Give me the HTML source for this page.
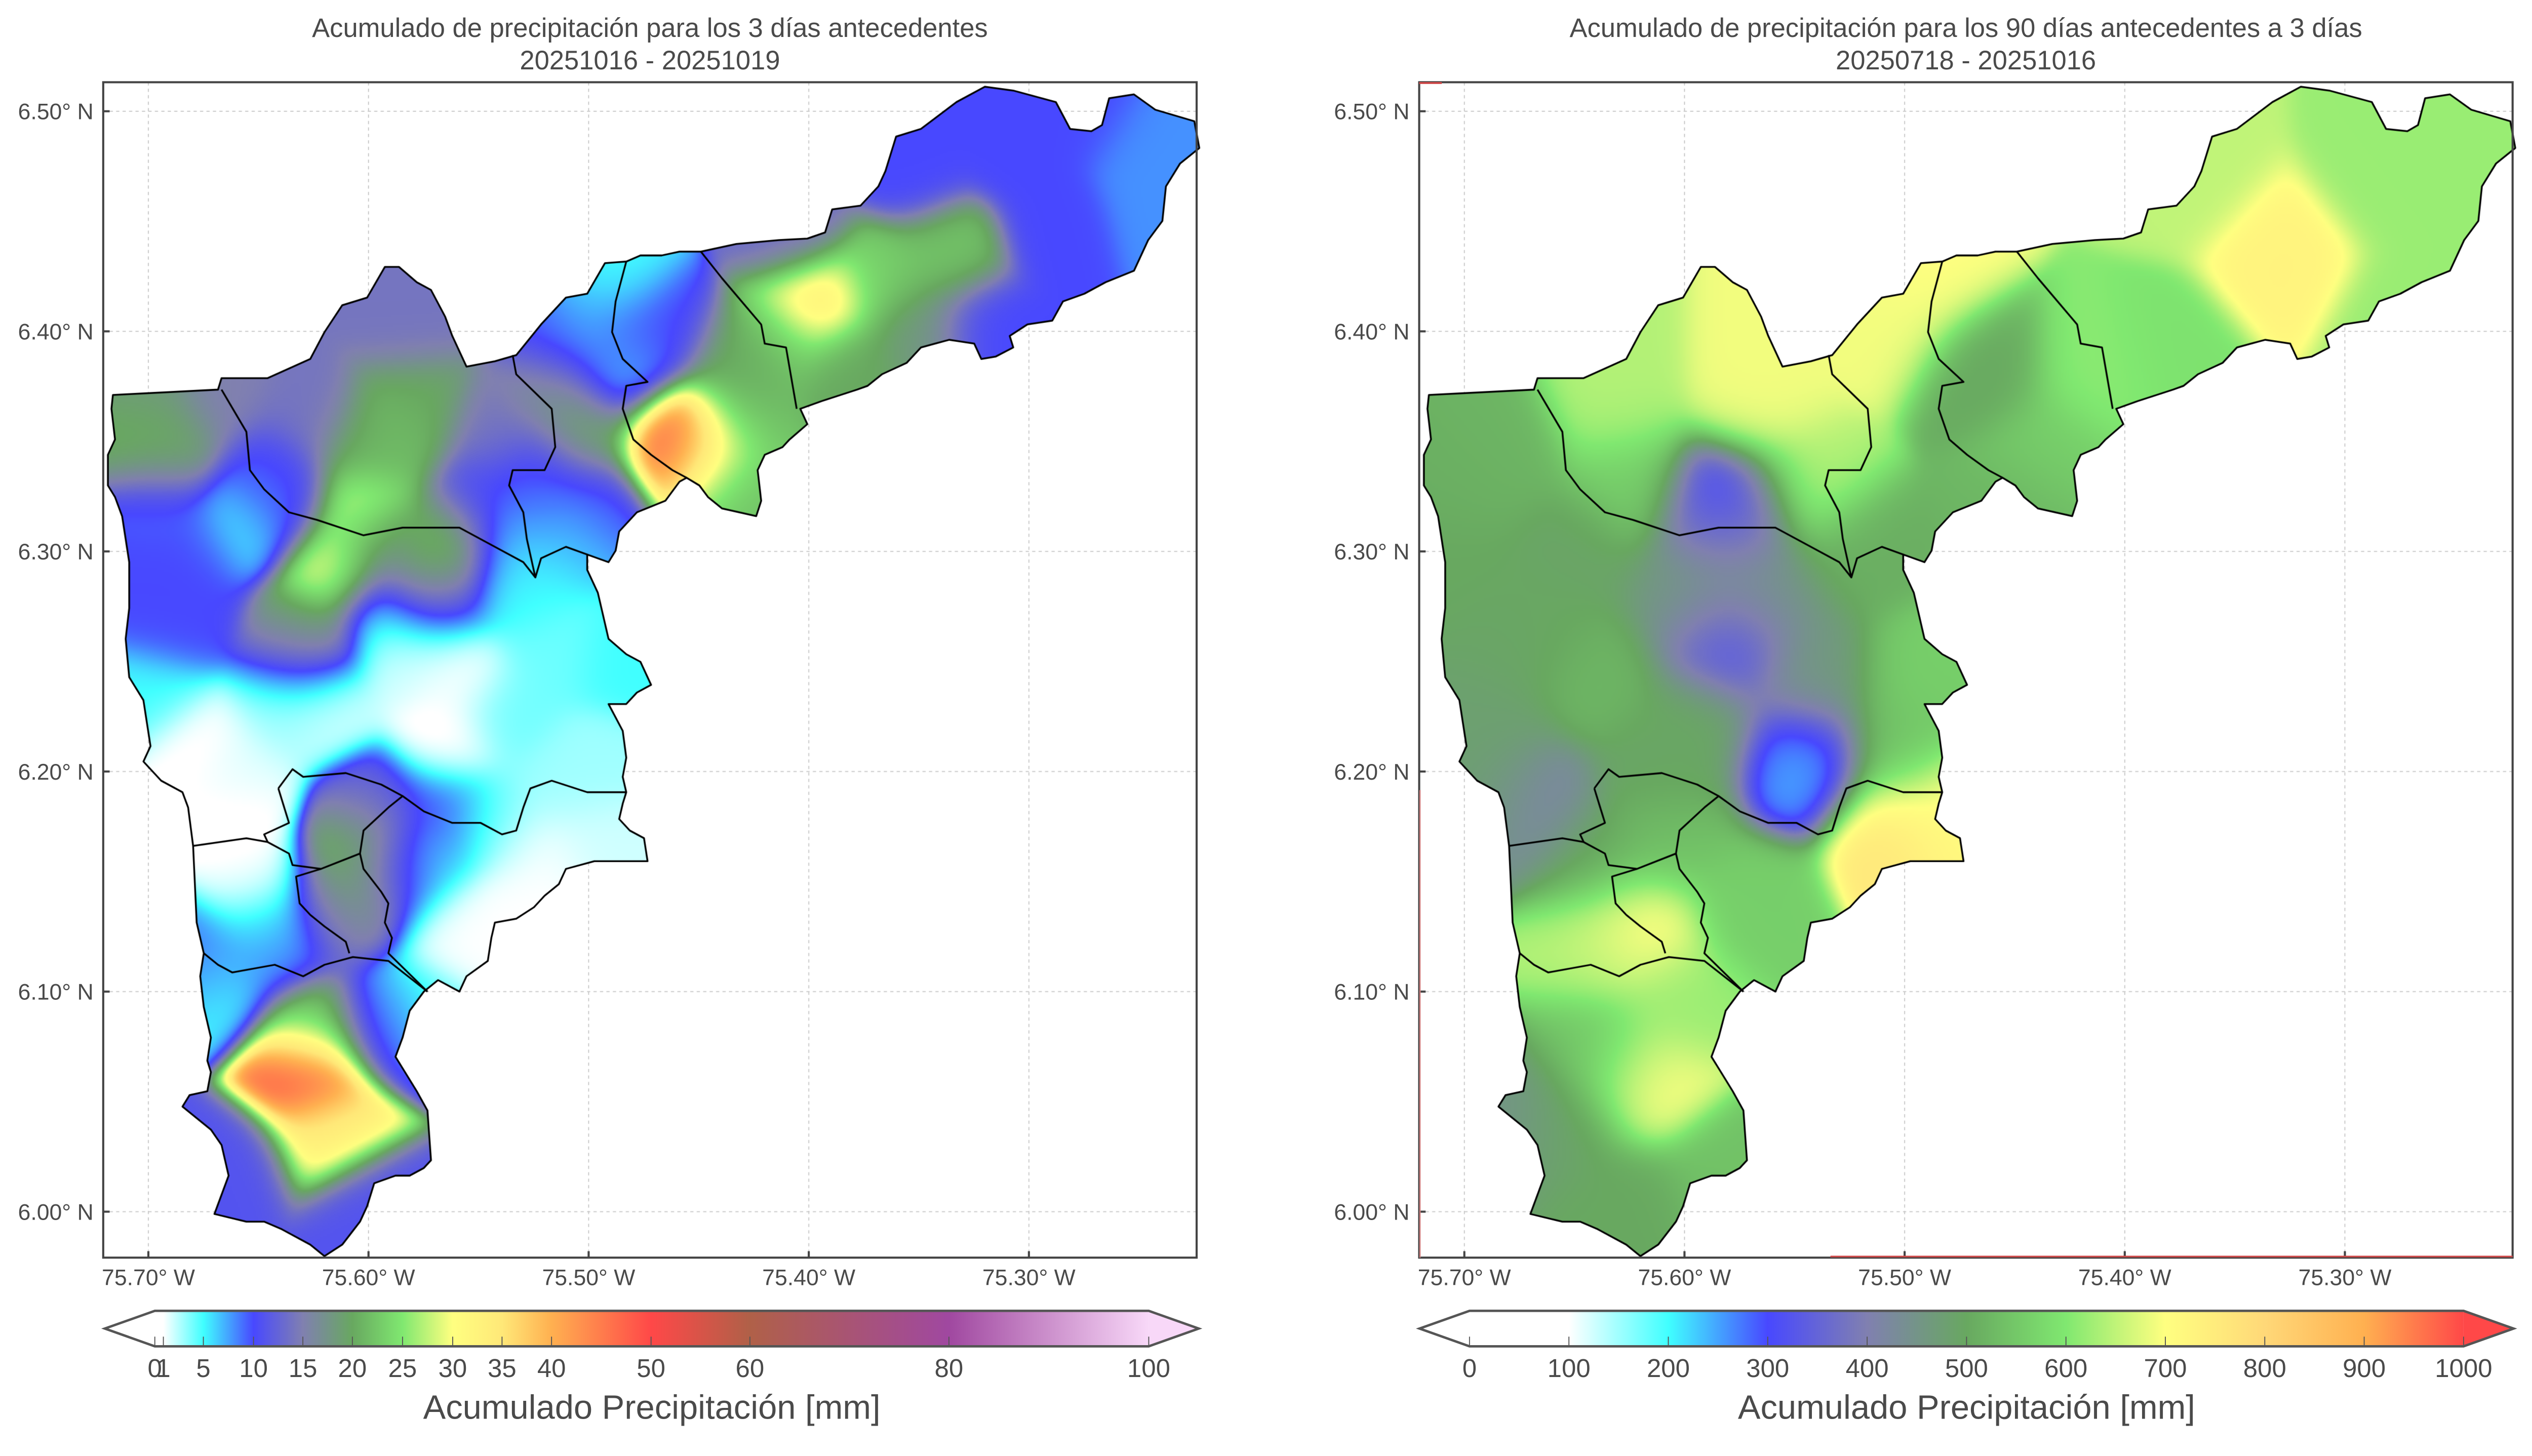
<!DOCTYPE html>
<html><head><meta charset="utf-8">
<style>
html,body{margin:0;padding:0;background:#fff;width:5044px;height:2876px;overflow:hidden;}
#wrap{position:relative;width:5044px;height:2876px;overflow:hidden;background:#fff;transform:scale(0.99);transform-origin:0 0;}
#field{position:absolute;left:0;top:0;display:block;}
#overlay{position:absolute;left:0;top:0;display:block;}
text{font-family:"Liberation Sans",sans-serif;fill:#4a4a4a;}
</style></head>
<body>
<div id="wrap">
<canvas id="field" width="5044" height="2876"></canvas>
<svg id="overlay" width="5044" height="2876" viewBox="0 0 1568 894" preserveAspectRatio="none">
 <defs>
  <linearGradient id="gradL" x1="96" x2="712.3" y1="0" y2="0" gradientUnits="userSpaceOnUse"></linearGradient>
  <linearGradient id="gradR" x1="911.2" x2="1527.6" y1="0" y2="0" gradientUnits="userSpaceOnUse"></linearGradient>
 </defs>
 <g id="ov"></g>
</svg>
</div>
<script>
// ---------- data ----------
const lonTicks=[75.7,75.6,75.5,75.4,75.3];
const latTicks=[6.5,6.4,6.3,6.2,6.1,6.0];
// 3-day accumulation sample points (lon W, lat N, mm)
const rain3dLon=[75.630,75.620,75.626,75.659,75.601,75.675,75.668,75.594,75.581,75.643,75.652,75.646,75.662,75.601,75.607,75.614,75.588,75.597,75.568,75.578,75.562,75.523,75.497,75.530,75.543,75.514,75.678,75.565,75.559,75.581,75.536,75.517,75.530,75.594,75.497,75.485,75.697,75.633,75.685,75.704,75.697,75.657,75.639,75.630,75.614,75.601,75.594,75.576,75.565,75.588,75.578,75.601,75.568,75.581,75.626,75.543,75.552,75.523,75.536,75.704,75.691,75.701,75.668,75.646,75.488,75.501,75.514,75.465,75.483,75.485,75.501,75.517,75.460,75.449,75.433,75.436,75.433,75.497,75.523,75.510,75.397,75.413,75.368,75.336,75.381,75.349,75.407,75.352,75.304,75.288,75.320,75.246,75.240,75.275,75.690,75.680,75.640,75.660,75.620];
const rain3dLat=[6.062,6.037,6.083,6.023,6.002,6.114,6.100,6.086,6.093,6.121,6.149,6.128,6.184,6.166,6.144,6.135,6.152,6.184,6.182,6.159,6.128,6.163,6.170,6.135,6.177,6.194,6.212,6.212,6.246,6.253,6.225,6.253,6.281,6.274,6.205,6.249,6.236,6.253,6.274,6.295,6.323,6.313,6.323,6.262,6.292,6.318,6.306,6.290,6.304,6.351,6.368,6.344,6.278,6.403,6.361,6.354,6.323,6.323,6.302,6.351,6.347,6.369,6.369,6.334,6.424,6.403,6.396,6.400,6.379,6.396,6.354,6.372,6.351,6.344,6.361,6.330,6.385,6.323,6.337,6.309,6.414,6.396,6.424,6.435,6.386,6.400,6.442,6.473,6.483,6.448,6.402,6.483,6.459,6.500,6.270,6.300,6.230,6.200,6.230];
const rain3dVal=[50,33,22,11,11,9,5,11,4,10,1,4,0.5,22,22,12,11,12,10,5,1,1,2,1,4,3,0.5,0.5,1,2,4,4,5,4,3,5,5,10,10,10,9,5,10,22,30,32,13,22,23,22,20,20,10,14,14,14,10,9,6,21,20,18,15,10,5,6,10,10,6,10,20,17,52,32,22,22,20,10,10,6,36,22,23,22,20,18,13,10,10,10,10,8,8,10,10,10,3,2,2];
// 90-day accumulation sample points
const rain90Lon=[75.329,75.369,75.281,75.413,75.274,75.464,75.435,75.508,75.489,75.566,75.632,75.544,75.625,75.683,75.705,75.690,75.668,75.580,75.580,75.581,75.562,75.540,75.547,75.668,75.639,75.595,75.493,75.504,75.479,75.471,75.606,75.569,75.622,75.640,75.618,75.603,75.640,75.654,75.581,75.625,75.679,75.599,75.450,75.380,75.700,75.680,75.650,75.610,75.520,75.500,75.640,75.690];
const rain90Lat=[6.433,6.470,6.470,6.382,6.404,6.382,6.345,6.404,6.426,6.367,6.367,6.331,6.331,6.345,6.294,6.221,6.272,6.321,6.309,6.258,6.280,6.243,6.204,6.184,6.243,6.221,6.243,6.170,6.184,6.170,6.170,6.140,6.129,6.118,6.060,6.096,6.074,6.038,6.016,6.001,6.045,6.279,6.320,6.390,6.330,6.260,6.300,6.200,6.300,6.210,6.160,6.190];
const rain90Val=[730,650,620,610,620,500,560,690,700,690,640,640,560,520,500,480,500,240,440,310,450,460,250,410,520,500,560,760,700,720,540,560,720,640,700,620,540,490,540,500,450,460,520,590,510,490,490,490,510,540,500,480];
// colour scale stops
const lvL=[0,1,5,10,15,20,25,30,35,40,50,60,80,100];
const colL=['#ffffff','#ffffff','#40ffff','#4848ff','#8080b0','#68a860','#80e870','#ffff80','#ffe878','#ffb050','#ff4848','#b06048','#a048a0','#f8d8f8'];
const posL=[96,101.3,126.1,157.2,187.8,218.5,249.6,280.7,311.3,342,403.7,465,588.4,712.3];
const lvR=[0,100,200,300,400,500,600,700,800,900,1000];
const colR=['#ffffff','#ffffff','#40ffff','#4848ff','#8080b0','#68a860','#80e870','#ffff80','#ffd878','#ffb050','#ff4848'];

// ---------- outline (reference-crop coordinates) ----------
const outline=[[22,422],[170,415],[175,400],[240,400],[300,375],[320,340],[345,305],[380,295],[405,255],[425,255],[450,275],[470,285],[490,320],[500,345],[520,385],[560,378],[590,370],[625,330],[635,320],[660,295],[690,290],[715,250],[745,248],[765,240],[795,240],[820,235],[850,235],[900,225],[960,220],[1000,218],[1025,210],[1035,180],[1075,175],[1100,150],[1110,130],[1125,85],[1160,75],[1210,40],[1250,20],[1290,25],[1350,40],[1370,75],[1400,78],[1415,70],[1425,35],[1460,30],[1490,50],[1545,65],[1552,100],[1525,120],[1505,150],[1500,195],[1480,220],[1460,260],[1420,275],[1390,290],[1360,300],[1345,325],[1310,330],[1285,345],[1290,360],[1265,372],[1245,375],[1235,355],[1200,350],[1180,355],[1160,360],[1140,380],[1105,395],[1085,410],[1070,415],[1020,430],[990,440],[1000,460],[975,480],[965,490],[940,500],[930,520],[935,560],[928,580],[880,570],[860,555],[848,540],[830,530],[820,535],[800,560],[760,575],[735,600],[730,625],[720,640],[690,630],[690,650],[705,680],[710,700],[720,740],[745,760],[765,770],[780,800],[760,810],[745,825],[720,825],[740,860],[745,895],[740,920],[745,940],[740,955],[735,975],[750,990],[770,1000],[775,1030],[745,1030],[700,1030],[660,1040],[650,1060],[630,1075],[615,1090],[590,1105],[560,1110],[555,1130],[550,1160],[520,1180],[510,1200],[480,1185],[460,1200],[440,1225],[430,1260],[420,1285],[430,1300],[450,1330],[465,1355],[470,1420],[460,1430],[440,1440],[420,1440],[390,1450],[380,1480],[370,1500],[345,1530],[320,1545],[300,1530],[260,1510],[235,1500],[210,1500],[165,1490],[185,1440],[175,1400],[160,1380],[120,1350],[130,1335],[155,1330],[160,1305],[155,1290],[160,1260],[150,1220],[145,1180],[150,1150],[140,1110],[135,1010],[128,960],[120,940],[90,925],[65,900],[75,880],[70,850],[65,820],[45,790],[40,740],[45,700],[45,640],[35,580],[25,555],[15,540],[15,500],[25,480],[20,440]];
const borders=[
 [[175,415],[210,470],[215,520],[235,545],[270,575],[310,585],[375,605],[430,595],[470,595],[510,595],[560,620],[600,640],[617,660],[625,635],[660,620],[690,630]],
 [[585,370],[590,395],[640,440],[645,490],[630,520],[585,520],[580,540],[600,575],[605,610],[617,660]],
 [[850,235],[880,270],[935,330],[940,355],[970,360],[985,440]],
 [[745,248],[730,300],[725,340],[740,375],[775,405],[745,410],[740,440],[755,480],[780,500],[810,520],[830,530]],
 [[135,1010],[210,1000],[240,1005],[270,1020],[275,1035],[315,1040],[370,1020],[375,990],[410,960],[430,945],[460,965],[500,980],[540,980],[570,995],[590,990],[600,960],[610,935],[640,925],[690,940],[745,940]],
 [[255,935],[275,910],[290,920],[350,915],[400,930],[430,945]],
 [[255,935],[265,965],[270,980],[235,995],[240,1005]],
 [[370,1020],[375,1040],[400,1070],[410,1085],[405,1110],[415,1130],[410,1150],[465,1200]],
 [[315,1040],[280,1050],[285,1085],[300,1100],[320,1115],[350,1135],[355,1150]],
 [[150,1150],[170,1165],[190,1175],[250,1165],[290,1180],[320,1165],[360,1155],[410,1160],[465,1200]]
];

// ---------- axis functions ----------
function xOf(lon,off){return off+92+(75.70-lon)*1365;}
function yOf(lat){return 69+(6.50-lat)*1365;}
function zX(zx,off){return off+92+(zx-72)*0.4403;}
function zY(zy){return 69+(zy-52)*0.4756;}
function hex(c){return [parseInt(c.substr(1,2),16),parseInt(c.substr(3,2),16),parseInt(c.substr(5,2),16)];}
const rgbL=colL.map(hex), rgbR=colR.map(hex);
function colorAt(v,lv,rgb){
 if(v<=lv[0])return rgb[0];
 for(let i=1;i<lv.length;i++){if(v<=lv[i]){const t=(v-lv[i-1])/(lv[i]-lv[i-1]);const a=rgb[i-1],b=rgb[i];return [a[0]+(b[0]-a[0])*t,a[1]+(b[1]-a[1])*t,a[2]+(b[2]-a[2])*t];}}
 return rgb[rgb.length-1];
}

// ---------- canvas ----------
const cv=document.getElementById('field');
const ctx=cv.getContext('2d');
const SX=5044/1568, SY=2876/894;
ctx.setTransform(SX,0,0,SY,0,0);
ctx.fillStyle='#fff';ctx.fillRect(0,0,1568,894);

function outlinePath(off){
 const p=new Path2D();
 outline.forEach((q,i)=>{const x=zX(q[0],off),y=zY(q[1]);if(i)p.lineTo(x,y);else p.moveTo(x,y);});
 p.closePath();return p;
}
function drawPanel(off,lons,lats,vals,lv,rgb,sigma){
 ctx.save();
 ctx.strokeStyle='#c8c8c8';ctx.lineWidth=0.6;ctx.setLineDash([2,2]);
 lonTicks.forEach(l=>{const x=xOf(l,off);ctx.beginPath();ctx.moveTo(x,51);ctx.lineTo(x,780);ctx.stroke();});
 latTicks.forEach(l=>{const y=yOf(l);ctx.beginPath();ctx.moveTo(off+64,y);ctx.lineTo(off+742,y);ctx.stroke();});
 ctx.restore();
 const W=680,H=730,x0=off+63,y0=51;
 const oc=document.createElement('canvas');oc.width=W;oc.height=H;
 const octx=oc.getContext('2d');const img=octx.createImageData(W,H);
 const px=lons.map(l=>xOf(l,off)), py=lats.map(l=>yOf(l));
 const n=vals.length, inv=1/(2*sigma*sigma);
 for(let j=0;j<H;j++){const y=y0+j+0.5;for(let i=0;i<W;i++){const x=x0+i+0.5;
  let sw=0,sv=0;
  for(let k=0;k<n;k++){const dx=x-px[k],dy=y-py[k];const d2=dx*dx+dy*dy;const w=Math.exp(-d2*inv)+1e-9/(d2*d2+1);sw+=w;sv+=w*vals[k];}
  const c=colorAt(sv/sw,lv,rgb);const o=(j*W+i)*4;
  img.data[o]=c[0];img.data[o+1]=c[1];img.data[o+2]=c[2];img.data[o+3]=255;}}
 octx.putImageData(img,0,0);
 const path=outlinePath(off);
 ctx.save();ctx.clip(path);ctx.imageSmoothingEnabled=true;ctx.drawImage(oc,x0,y0,W,H);ctx.restore();
 ctx.save();ctx.strokeStyle='#000';ctx.lineWidth=1.1;ctx.lineJoin='round';
 ctx.stroke(path);
 borders.forEach(b=>{ctx.beginPath();b.forEach((q,i)=>{const x=zX(q[0],off),y=zY(q[1]);if(i)ctx.lineTo(x,y);else ctx.moveTo(x,y);});ctx.stroke();});
 ctx.restore();
}
drawPanel(0,rain3dLon,rain3dLat,rain3dVal,lvL,rgbL,18);
drawPanel(816,rain90Lon,rain90Lat,rain90Val,lvR,rgbR,22);

// ---------- SVG overlay ----------
const NS='http://www.w3.org/2000/svg';
const ov=document.getElementById('ov');
function mk(tag,attrs,parent){const e=document.createElementNS(NS,tag);for(const k in attrs)e.setAttribute(k,attrs[k]);(parent||ov).appendChild(e);return e;}
function txt(s,x,y,size,anchor,parent){const t=mk('text',{x:x,y:y,'font-size':size,'text-anchor':anchor||'middle'},parent);t.textContent=s;return t;}

function fillGrad(id,lv,col,x1,x2,pos){const g=document.getElementById(id);
 lv.forEach((v,i)=>{const p=pos?pos[i]:x1+(x2-x1)*v/lv[lv.length-1];const s=document.createElementNS(NS,'stop');s.setAttribute('offset',((p-x1)/(x2-x1)));s.setAttribute('stop-color',col[i]);g.appendChild(s);});}
fillGrad('gradL',lvL,colL,96,712.3,posL);
fillGrad('gradR',lvR,colR,911.2,1527.6,null);

const panels=[
 {off:0,t1:'Acumulado de precipitación para los 3 días antecedentes',t2:'20251016 - 20251019',name:'left'},
 {off:816,t1:'Acumulado de precipitación para los 90 días antecedentes a 3 días',t2:'20250718 - 20251016',name:'right'}
];
panels.forEach(P=>{
 const g=mk('g',{});
 
 
 const t1=txt(P.t1,P.off+403,23,16.5,'middle',g);
 
 
 const t2=txt(P.t2,P.off+403,43,16.5,'middle',g);
 
 
 const fr=mk('rect',{x:P.off+64,y:51,width:678,height:729,fill:'none',stroke:'#444','stroke-width':1.3},g);
 
 
 latTicks.forEach(l=>{const y=yOf(l);
  mk('line',{x1:P.off+64,x2:P.off+68,y1:y,y2:y,stroke:'#444','stroke-width':1.3},g);
  const t=txt(l.toFixed(2)+'° N',P.off+58,y+5,14,'end',g);
  
  });
 lonTicks.forEach(l=>{const x=xOf(l,P.off);
  mk('line',{x1:x,x2:x,y1:776,y2:780,stroke:'#444','stroke-width':1.3},g);
  const t=txt(l.toFixed(2)+'° W',x,797,14,'middle',g);
  
  });
});
mk('line',{x1:1135,x2:1558,y1:779.3,y2:779.3,stroke:'#d04848','stroke-width':1});
mk('line',{x1:880.5,x2:880.5,y1:490,y2:780,stroke:'#d08080','stroke-width':0.8});
mk('line',{x1:880,x2:894,y1:51.5,y2:51.5,stroke:'#d04848','stroke-width':1.2});

function colorbar(x0,x1,gid,leftFill,rightFill,ticks,tpos,name){
 const g=mk('g',{});
 
 
 const y0=813,y1=835,ym=824;
 mk('polygon',{points:`${x0-31},${ym} ${x0},${y0} ${x0},${y1}`,fill:leftFill},g);
 mk('polygon',{points:`${x1+31},${ym} ${x1},${y0} ${x1},${y1}`,fill:rightFill},g);
 mk('rect',{x:x0,y:y0,width:x1-x0,height:y1-y0,fill:`url(#${gid})`},g);
 mk('polygon',{points:`${x0-31},${ym} ${x0},${y0} ${x1},${y0} ${x1+31},${ym} ${x1},${y1} ${x0},${y1}`,fill:'none',stroke:'#555','stroke-width':1.5},g);
 ticks.forEach((v,i)=>{const x=tpos(v,i);
  mk('line',{x1:x,x2:x,y1:829,y2:835,stroke:'#555','stroke-width':0.6},g);
  const t=txt(String(v),x,854,16,'middle',g);
  
  });
 const lab=txt('Acumulado Precipitación [mm]',(x0+x1)/2,880,21,'middle',g);
 
 
}
colorbar(96,712.3,'gradL','#ffffff','#f8d8f8',lvL,(v,i)=>posL[i],'left-colorbar');
colorbar(911.2,1527.6,'gradR','#ffffff','#ff4848',lvR,(v)=>911.2+(1527.6-911.2)*v/1000,'right-colorbar');
</script>
</body></html>
